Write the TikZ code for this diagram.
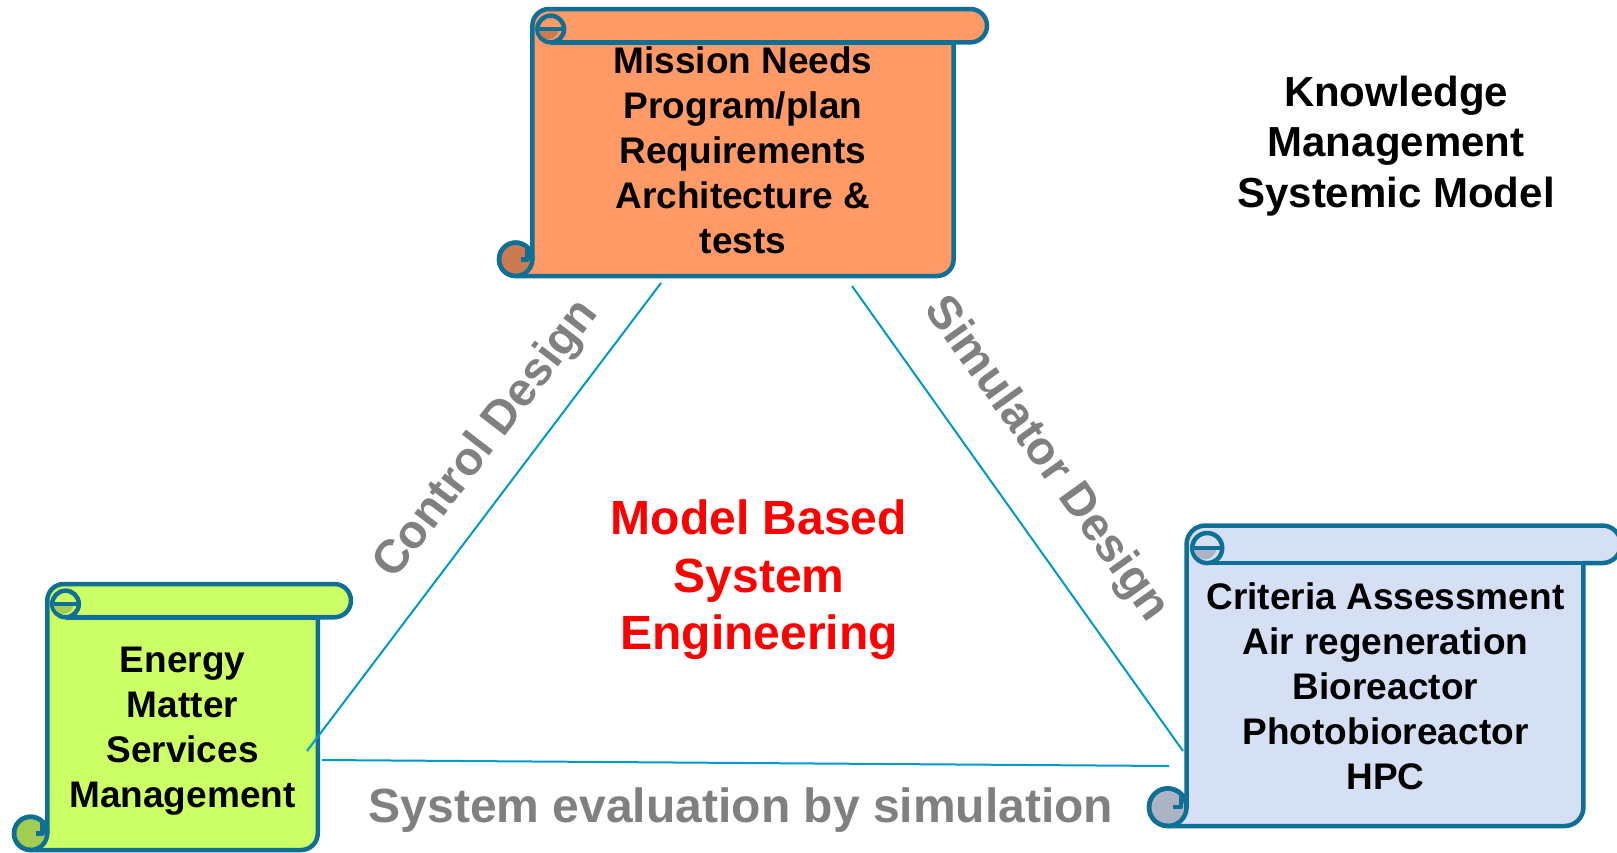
\documentclass[tikz,border=0pt]{standalone}
\usepackage{fontspec}
\setmainfont{Liberation Sans}

\definecolor{scrollborder}{RGB}{16,111,148}
\definecolor{linkblue}{RGB}{0,153,204}
\definecolor{labelgray}{RGB}{128,128,128}
\definecolor{mbsered}{RGB}{255,0,0}
\definecolor{orangefill}{RGB}{255,153,102}
\definecolor{orangedark}{RGB}{204,122,82}
\definecolor{greenfill}{RGB}{204,255,102}
\definecolor{greendark}{RGB}{163,204,82}
\definecolor{bluefill}{RGB}{214,224,245}
\definecolor{bluedark}{RGB}{171,179,196}

\tikzset{
  scrollline/.style={draw=scrollborder, line width=4.5pt, line join=round},
  scrolltxt/.style={font=\fontsize{37}{45}\selectfont\bfseries, align=center, anchor=base, inner sep=0pt},
  linklabel/.style={font=\fontsize{47}{56}\selectfont\bfseries, text=labelgray, inner sep=0pt},
  link/.style={draw=linkblue, line width=2pt},
}

% Horizontal scroll: #1 left, #2 top, #3 right, #4 bottom, #5 fill, #6 shaded curl
\newcommand\drawscroll[6]{%
  \begin{scope}
    \pgfmathsetmacro\scL{#1}%
    \pgfmathsetmacro\scT{#2}%
    \pgfmathsetmacro\scR{#3}%
    \pgfmathsetmacro\scB{#4}%
    \pgfmathsetmacro\scC{0.125*min(\scR-\scL,\scB-\scT)}%
    \pgfmathsetmacro\scH{\scC/2}%
    \pgfmathsetmacro\ccx{\scL+\scC+1.1*\scH}%
    \pgfmathsetmacro\ccy{\scT+\scC-0.8*\scH}%
    \pgfmathsetmacro\ccr{0.8*\scH}%
    % sheet and top roll
    \fill[#5] (\scL+\scC,\scB-\scH) -- (\scL+\scC,\scT+\scH)
      arc[start angle=180, end angle=270, radius=\scH]
      -- (\scR-\scH,\scT) arc[start angle=270, end angle=450, radius=\scH]
      -- (\scR-\scC,\scT+\scC) -- (\scR-\scC,\scB-\scH)
      arc[start angle=0, end angle=90, radius=\scH]
      -- (\scL+\scH,\scB) arc[start angle=90, end angle=360, radius=\scH] -- cycle;
    % bottom curl
    \fill[#6] (\scL+\scH,\scB-\scH) circle[radius=\scH];
    \draw[scrollline] (\scL+\scC,\scB-\scH) -- (\scL+\scC,\scT+\scH)
      arc[start angle=180, end angle=270, radius=\scH]
      -- (\scR-\scH,\scT) arc[start angle=270, end angle=450, radius=\scH]
      -- (\scR-\scC,\scT+\scC) -- (\scR-\scC,\scB-\scH)
      arc[start angle=0, end angle=90, radius=\scH]
      -- (\scL+\scH,\scB) arc[start angle=90, end angle=360, radius=\scH] -- cycle;
    \draw[scrollline] (\scL+\scH,\scB-\scH) circle[radius=\scH];
    \draw[scrollline] (\scL+1.7*\scH,\scB-1.6*\scH) -- (\scL+1.7*\scH,\scB-\scH) -- (\scL+1.3*\scH,\scB-\scH);
    % underside of the roll and the top curl
    \draw[scrollline] (\scR-\scC,\scT+\scC) -- (\ccx,\scT+\scC);
    \filldraw[scrollline, fill=#5] (\ccx,\ccy) circle[radius=\ccr];
    \fill[#6] (\ccx-0.9*\ccr,\ccy) arc[start angle=180, end angle=0, radius=0.75*\ccr];
    \draw[scrollline] (\ccx+\ccr,\ccy) -- (\ccx-0.9*\ccr,\ccy);
  \end{scope}}

\begin{document}
\begin{tikzpicture}[x=1pt,y=-1pt]
  \useasboundingbox (0,0) rectangle (1617,852);
  \fill[white] (0,0) rectangle (1617,852);

  % the three scrolls
  \drawscroll{499}{9}{987}{276}{orangefill}{orangedark}
  \drawscroll{14}{584}{351}{850}{greenfill}{greendark}
  \drawscroll{1149}{525.5}{1621}{826}{bluefill}{bluedark}

  % texts on the scrolls (anchored at the baseline of their last line)
  \node[scrolltxt] (mission) at (743,253.7)
    {Mission Needs\\Program/plan\\Requirements\\Architecture \&\\tests};
  \node[scrolltxt] (energy) at (182.5,807.3)
    {Energy\\Matter\\Services\\Management};
  \node[scrolltxt] (criteria) at (1385.5,789.4)
    {Criteria Assessment\\Air regeneration\\Bioreactor\\Photobioreactor\\HPC};

  \node[font=\fontsize{42}{50.5}\selectfont\bfseries, align=center, anchor=base, inner sep=0pt]
    (kmsm) at (1396,207) {Knowledge\\Management\\Systemic Model};
  \node[font=\fontsize{48}{57.5}\selectfont\bfseries, text=mbsered, align=center, anchor=base, inner sep=0pt]
    (mbse) at (759,649.5) {Model Based\\System\\Engineering};

  % connectors of the triangle
  \coordinate (ctrlTop) at (661,283);
  \coordinate (ctrlBot) at (307,751);
  \coordinate (simTop) at (852,286);
  \coordinate (simBot) at (1183,751);
  \coordinate (evalL) at (322,760);
  \coordinate (evalR) at (1169,766);
  \draw[link] (ctrlTop) -- (ctrlBot);
  \draw[link] (simTop) -- (simBot);
  \draw[link] (evalL) -- (evalR);

  \node[linklabel, rotate=52.5] (ctrl) at (487,440) {Control Design};
  \node[linklabel, rotate=-54.5] (sim) at (1046,460) {Simulator Design};
  \node[linklabel, font=\fontsize{48}{56}\selectfont\bfseries, anchor=base] (eval) at (741,822) {System evaluation by simulation};
\end{tikzpicture}
\end{document}
